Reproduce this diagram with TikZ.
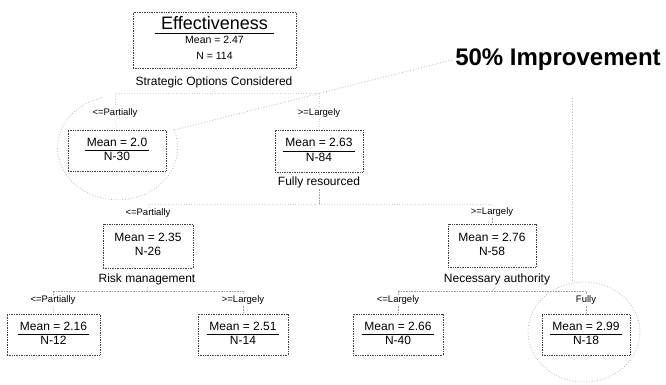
\documentclass[tikz,border=0pt]{standalone}
\usepackage{fontspec}
\setmainfont{Liberation Sans}
\usetikzlibrary{shapes.geometric}

\tikzset{
  box/.style={draw=black!75, densely dotted, line width=0.7pt, inner sep=0pt, font=\fontsize{12}{14}\selectfont},
  cutlbl/.style={font=\fontsize{12}{13}\selectfont, inner sep=1pt},
  branch/.style={font=\fontsize{9.5}{11}\selectfont, inner sep=1pt},
  tree/.style={gray!75, densely dotted, line width=0.6pt},
  faint/.style={gray!35, dotted, line width=0.6pt},
  lasso/.style={gray!55, dotted, line width=0.8pt},
}
\newcommand{\leaf}[2]{\begin{tabular}{@{\hspace{2pt}}c@{\hspace{2pt}}}#1\\\hline #2\end{tabular}}
\newcommand{\inner}[2]{\begin{tabular}{@{}c@{}}#1\\ #2\end{tabular}}

\begin{document}
\begin{tikzpicture}[x=1pt, y=-1pt]
	\useasboundingbox[fill=white] (0,0) rectangle (666,384);

	% root
	\node[box, minimum width=163, minimum height=56] (root) at (214.5,40) {\begin{tabular}{@{\hspace{6pt}}c@{\hspace{6pt}}}{\fontsize{18}{20}\selectfont Effectiveness}\\\hline \fontsize{10.5}{12}\selectfont Mean = 2.47\\[2pt] \fontsize{10.5}{12}\selectfont N = 114\end{tabular}};
	\node[cutlbl] (rootcut) at (214,82) {Strategic Options Considered};
	\coordinate (s1) at (214,93);

	% first split
	\node[branch] (lblL1) at (115,113) {<=Partially};
	\node[box, minimum width=98, minimum height=41] (boxL1) at (117,150.5) {\leaf{Mean = 2.0}{N-30}};
	\node[branch] (lblM1) at (319,113) {>=Largely};
	\node[box, minimum width=88, minimum height=42] (boxM1) at (319,151) {\leaf{Mean = 2.63}{N-84}};
	\node[cutlbl] (cutM1) at (319,182) {Fully resourced};
	\coordinate (s2) at (319,204);

	% second split
	\node[branch] (lblL2) at (148,213) {<=Partially};
	\node[box, minimum width=90, minimum height=44] (boxL2) at (148,246) {\inner{Mean = 2.35}{N-26}};
	\node[cutlbl] (cutL2) at (147,279) {Risk management};
	\coordinate (s3L) at (148,291);
	\node[branch] (lblR2) at (492,212) {>=Largely};
	\node[box, minimum width=88, minimum height=43] (boxR2) at (492,245.5) {\inner{Mean = 2.76}{N-58}};
	\node[cutlbl] (cutR2) at (497,279) {Necessary authority};
	\coordinate (s3R) at (492,291);

	% leaves
	\node[branch] (lblA) at (53,300) {<=Partially};
	\node[box, minimum width=93, minimum height=41] (boxA) at (53.5,334.5) {\leaf{Mean = 2.16}{N-12}};
	\node[branch] (lblB) at (243,300) {>=Largely};
	\node[box, minimum width=90, minimum height=41] (boxB) at (243,334.5) {\leaf{Mean = 2.51}{N-14}};
	\node[branch] (lblC) at (398,300) {<=Largely};
	\node[box, minimum width=90, minimum height=41] (boxC) at (398,334.5) {\leaf{Mean = 2.66}{N-40}};
	\node[branch] (lblD) at (586,300) {Fully};
	\node[box, minimum width=88, minimum height=41] (boxD) at (586,334.5) {\leaf{Mean = 2.99}{N-18}};

	% connectors
	\draw[faint] (root.south) -- (rootcut.north);
	\draw[faint] (rootcut.south) -- (s1);
	\draw[faint] (lblL1.north) |- (s1) -| (lblM1.north);
	\draw[faint] (lblL1.south) -- (boxL1.north);
	\draw[faint] (lblM1.south) -- (boxM1.north);
	\draw[tree] (boxM1.south) -- (cutM1.north);
	\draw[tree] (cutM1.south) -- (s2);
	\draw[faint] (lblL2.north) |- (s2) -| (lblR2.north);
	\draw[faint] (lblL2.south) -- (boxL2.north);
	\draw[tree] (lblR2.south) -- (boxR2.north);
	\draw[tree] (boxR2.south) -- (cutR2.north);
	\draw[tree] (cutL2.south) -- (s3L);
	\draw[tree] (cutR2.south) -- (s3R);
	\draw[tree] (lblA.north) |- (s3L) -| (lblB.north);
	\draw[tree] (lblC.north) |- (s3R) -| (lblD.north);
	\draw[tree] (lblA.south) -- (boxA.north);
	\draw[tree] (lblB.south) -- (boxB.north);
	\draw[tree] (lblC.south) -- (boxC.north);
	\draw[tree] (lblD.south) -- (boxD.north);

	% highlight
	\node[font=\fontsize{24}{26}\selectfont\bfseries] (improve) at (558,60) {50\% Improvement};
	\node[lasso, draw, ellipse, minimum width=112, minimum height=100] (ring) at (584,332) {};
	\coordinate (v1) at (572,98);
	\draw[lasso] (v1) -- (v1 |- ring.north);
	\coordinate (c1) at (174,130);
	\draw[lasso] (c1) arc[start angle=-20, end angle=255, x radius=60, y radius=52];
	\draw[lasso] (c1) -- (improve.west);
\end{tikzpicture}
\end{document}
